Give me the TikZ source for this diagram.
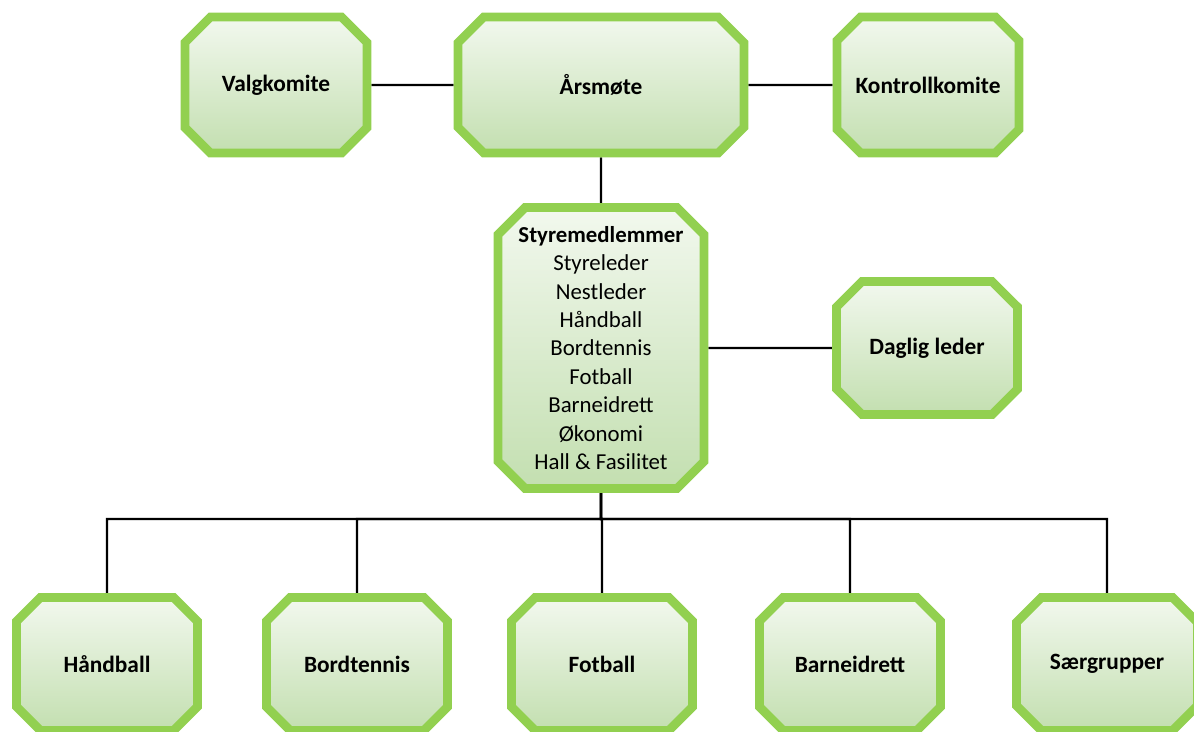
\documentclass[tikz,border=0pt]{standalone}
\usepackage{fontspec}
\setmainfont{Carlito}
\usetikzlibrary{shapes.misc,backgrounds}
\definecolor{boxgreen}{HTML}{92D050}
\definecolor{filltop}{HTML}{F2F8EE}
\definecolor{fillbot}{HTML}{C3DFB0}

\begin{document}
\begin{tikzpicture}[x=0.02cm, y=-0.02cm]
\tikzstyle{every node}=[font=\fontsize{13}{16.2}\selectfont]
\tikzstyle{orgbox}=[chamfered rectangle, chamfered rectangle xsep=0.27cm,
  chamfered rectangle ysep=0.27cm, draw=boxgreen, line width=5pt,
  top color=filltop, bottom color=fillbot, align=center, inner sep=1pt,
  font=\fontsize{13.3}{16.2}\selectfont\bfseries,
  minimum width=3.64cm, minimum height=2.72cm]
\tikzstyle{lowbox}=[minimum width=3.62cm, minimum height=2.66cm]
\tikzstyle{link}=[line width=1.2pt]

\useasboundingbox (0,0) rectangle (1194,731);
\clip (0,0) rectangle (1194,731);

% Top row
\node[orgbox] (valg) at (276,85) {Valgkomite};
\node[orgbox, minimum width=5.72cm] (aars) at (601,85) {Årsmøte};
\node[orgbox] (kontroll) at (928,85) {Kontrollkomite};

% Board
\node[orgbox, minimum width=4.12cm, minimum height=5.62cm,
  font=\fontsize{13}{16.2}\selectfont] (styre) at (601,348)
  {\textbf{Styremedlemmer}\\Styreleder\\Nestleder\\Håndball\\Bordtennis\\
   Fotball\\Barneidrett\\Økonomi\\Hall \& Fasilitet};
\node[orgbox, lowbox] (daglig) at (927,348) {Daglig leder};

% Groups
\foreach \x/\name/\label in {107/hand/Håndball, 357/bord/Bordtennis,
  602/fot/Fotball, 850/barn/Barneidrett, 1107/saer/Særgrupper}
  \node[orgbox, lowbox] (\name) at (\x,664) {\label};

\coordinate (bus) at (601,519);

\begin{pgfonlayer}{background}
\draw[link] (valg) -- (aars);
\draw[link] (aars) -- (kontroll);
\draw[link] (aars) -- (styre);
\draw[link] (styre) -- (daglig);
\foreach \name in {hand,bord,fot,barn,saer}
  \draw[link] (styre) -- (bus) -| (\name);
\end{pgfonlayer}
\end{tikzpicture}
\end{document}
